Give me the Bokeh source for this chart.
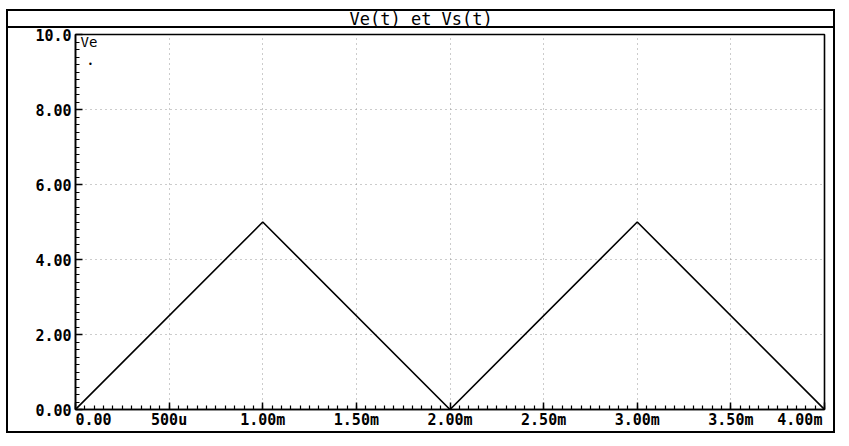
from bokeh.plotting import figure
from bokeh.models import Range1d, FixedTicker, Label
from bokeh.embed import file_html
from bokeh.resources import INLINE

# ---- data ----
t_values = [0.0, 1.0e-3, 2.0e-3, 3.0e-3, 4.0e-3]
ve_values = [0.0, 5.0, 0.0, 5.0, 0.0]

x_ticks = [0.0, 0.5e-3, 1.0e-3, 1.5e-3, 2.0e-3, 2.5e-3, 3.0e-3, 3.5e-3, 4.0e-3]
x_tick_labels = ["0.00", "500u", "1.00m", "1.50m", "2.00m", "2.50m", "3.00m", "3.50m", "4.00m"]
y_ticks = [0.0, 2.0, 4.0, 6.0, 8.0, 10.0]
y_tick_labels = ["0.00", "2.00", "4.00", "6.00", "8.00", "10.0"]
title_text = "Ve(t) et Vs(t)"
trace_name = "Ve"

FONT = "DejaVu Sans Mono"
NB = "\u00a0"


def bar(x, y, w, h):
    return f"linear-gradient(#000,#000) {x}px {y}px / {w}px {h}px no-repeat"


frame_css = ", ".join([
    bar(6, 9, 829, 2),     # outer top
    bar(6, 26, 829, 2),    # title separator
    bar(6, 431, 829, 2),   # outer bottom
    bar(6, 9, 2, 424),     # outer left
    bar(833, 9, 2, 424),   # outer right
]) + ", #ffffff"

p = figure(width=840, height=440, output_backend="svg", toolbar_location=None,
           x_range=Range1d(0, 4.0e-3), y_range=Range1d(0, 10.0),
           min_border_left=75, min_border_right=16, min_border_top=34, min_border_bottom=31,
           styles={"background": frame_css})
p.border_fill_alpha = 0

p.line(t_values, ve_values, line_color="black", line_width=1.6)

x_minor = [i * 0.05e-3 for i in range(0, 81)]
y_minor = [i * 0.2 for i in range(0, 51)]
p.xaxis.ticker = FixedTicker(ticks=x_ticks, minor_ticks=x_minor)
p.yaxis.ticker = FixedTicker(ticks=y_ticks, minor_ticks=y_minor)

# first x label sits right of its tick, last one left of it (as in the original)
x_shown = list(x_tick_labels)
x_shown[0] = NB * len(x_shown[0]) + x_shown[0]
x_shown[-1] = x_shown[-1] + NB * 2
p.xaxis.major_label_overrides = dict(zip(x_ticks, x_shown))
p.yaxis.major_label_overrides = dict(zip(y_ticks, y_tick_labels))

for ax in (p.xaxis, p.yaxis):
    ax.axis_line_color = "black"
    ax.axis_line_width = 1.5
    ax.major_tick_in = 7
    ax.major_tick_out = 0
    ax.minor_tick_in = 4
    ax.minor_tick_out = 0
    ax.major_tick_line_color = "black"
    ax.major_tick_line_width = 1.5
    ax.minor_tick_line_color = "black"
    ax.minor_tick_line_width = 1.2
    ax.major_label_text_font = FONT
    ax.major_label_text_font_size = "15px"
    ax.major_label_text_font_style = "bold"
    ax.major_label_text_color = "black"
p.xaxis.major_label_standoff = 1
p.yaxis.major_label_standoff = 4

p.xgrid.grid_line_color = "#999999"
p.ygrid.grid_line_color = "#999999"
p.xgrid.grid_line_dash = "1 4"
p.ygrid.grid_line_dash = "1 4"
p.xgrid.grid_line_width = 1
p.ygrid.grid_line_width = 1

p.outline_line_color = "black"
p.outline_line_width = 1.6

p.title.text = title_text
p.title.align = "left"
p.title.offset = 274
p.title.standoff = 12
p.title.text_font = FONT
p.title.text_font_size = "17px"
p.title.text_font_style = "normal"
p.title.text_color = "black"

p.add_layout(Label(x=5, y=376, x_units="screen", y_units="screen", text=trace_name,
                   text_font=FONT, text_font_size="14px", text_align="left",
                   text_baseline="top", text_color="black"))
p.add_layout(Label(x=15, y=345, x_units="screen", y_units="screen", text="•",
                   text_font=FONT, text_font_size="8px", text_align="center",
                   text_baseline="middle", text_color="black"))

open("out.html", "w").write(file_html(p, INLINE))
